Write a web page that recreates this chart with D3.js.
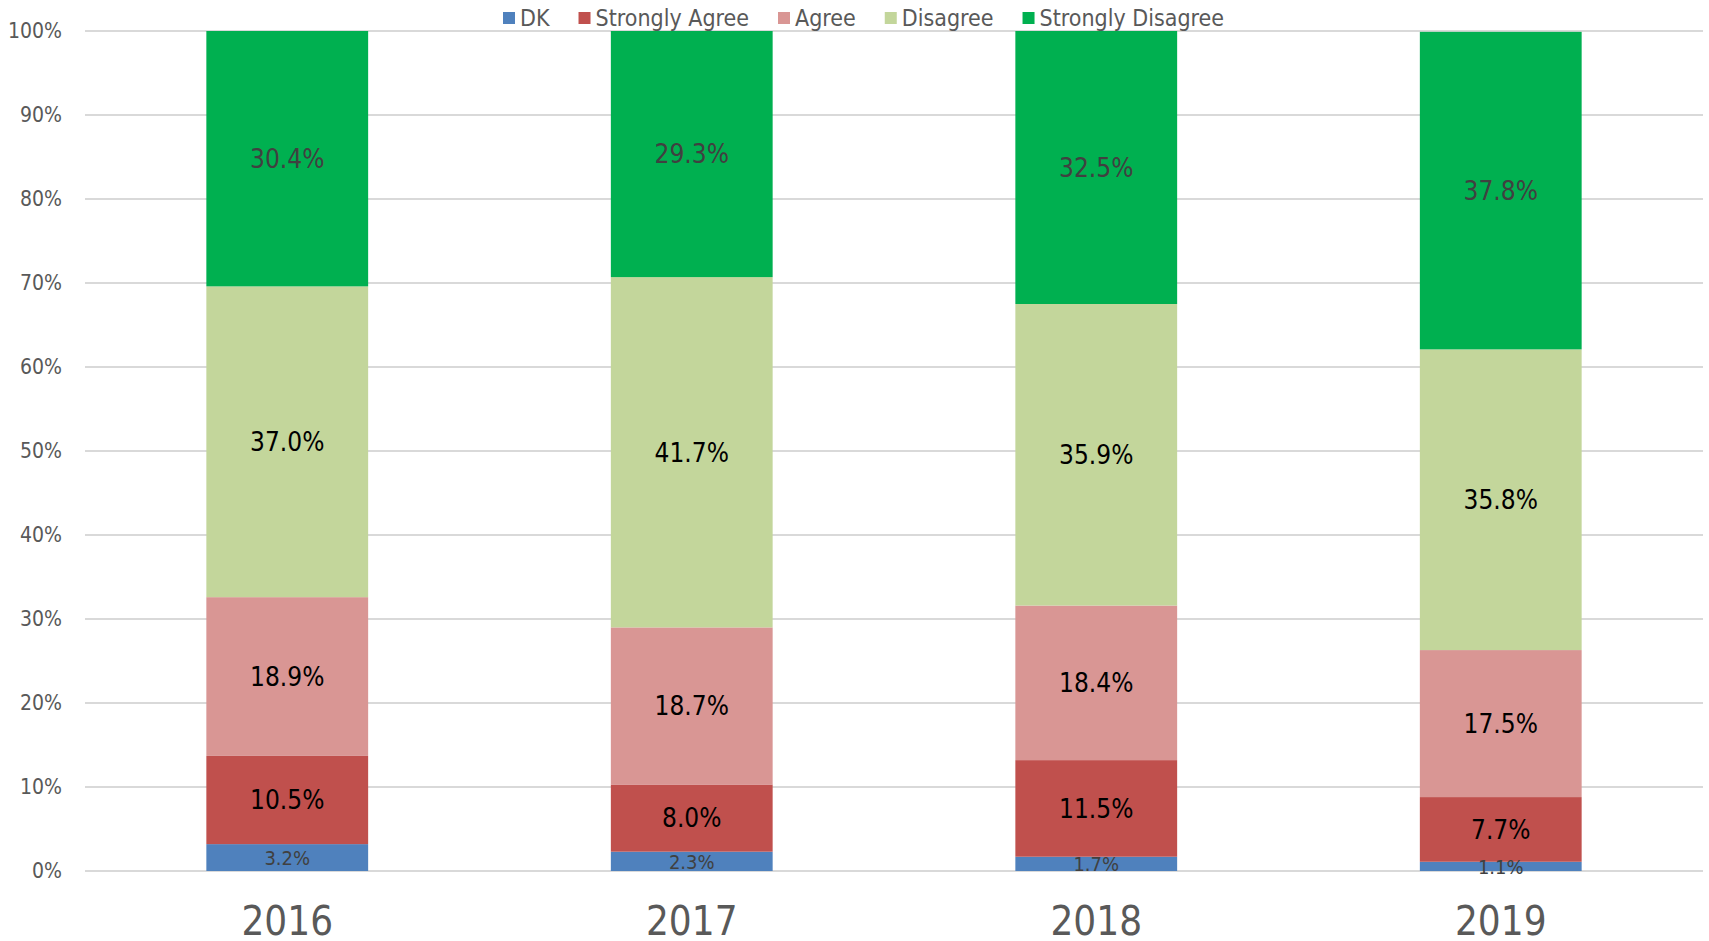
<!DOCTYPE html>
<html>
<head>
<meta charset="utf-8">
<script src="https://cdn.jsdelivr.net/npm/d3@7"></script>
<style>
  body { margin: 0; background: #fff; }
  svg { display: block; font-family: "DejaVu Sans Condensed", "DejaVu Sans", sans-serif; }
</style>
</head>
<body>
<svg id="chart" width="1709" height="941"></svg>
<script>
// data
var years = ['2016', '2017', '2018', '2019'];
var seriesNames = ['DK', 'Strongly Agree', 'Agree', 'Disagree', 'Strongly Disagree'];
var dk = [3.2, 2.3, 1.7, 1.1];
var stronglyAgree = [10.5, 8.0, 11.5, 7.7];
var agree = [18.9, 18.7, 18.4, 17.5];
var disagree = [37.0, 41.7, 35.9, 35.8];
var stronglyDisagree = [30.4, 29.3, 32.5, 37.8];
var yTicks = [0, 10, 20, 30, 40, 50, 60, 70, 80, 90, 100];

var colors = ['#4F81BD', '#C0504D', '#D99694', '#C3D69B', '#00B050'];
var labelColors = ['#404040', '#000', '#000', '#000', '#404040'];
var labelSizes = [20, 26, 26, 26, 26];

var svg = d3.select('#chart');
var W = 1709, H = 941;
var m = {left: 85, right: 6, top: 31, bottom: 70};

var rows = years.map(function (y, i) {
  return {year: y, 'DK': dk[i], 'Strongly Agree': stronglyAgree[i], 'Agree': agree[i],
    'Disagree': disagree[i], 'Strongly Disagree': stronglyDisagree[i]};
});
var stacked = d3.stack().keys(seriesNames)(rows);

var x = d3.scaleBand().domain(years)
  .range([m.left, W - m.right]).paddingInner(0.6).paddingOuter(0.3);
var y = d3.scaleLinear().domain([0, 100]).range([H - m.bottom, m.top]);

// gridlines
svg.append('g').selectAll('line').data(yTicks).enter().append('line')
  .attr('x1', m.left).attr('x2', W - m.right)
  .attr('y1', function (d) { return y(d); }).attr('y2', function (d) { return y(d); })
  .attr('stroke', '#D9D9D9').attr('stroke-width', 2);

// y axis labels
var yAxis = svg.append('g').attr('transform', 'translate(' + (m.left - 23) + ',0)')
  .call(d3.axisLeft(y).tickValues(yTicks).tickSize(0).tickPadding(0)
    .tickFormat(function (d) { return d + '%'; }));
yAxis.select('.domain').remove();
yAxis.selectAll('text').attr('font-size', 21).attr('fill', '#595959')
  .attr('font-family', '"DejaVu Sans Condensed", sans-serif');

// x axis labels
var xAxis = svg.append('g').attr('transform', 'translate(0,' + (H - m.bottom) + ')')
  .call(d3.axisBottom(x).tickSize(0).tickPadding(36));
xAxis.select('.domain').remove();
xAxis.selectAll('text').attr('font-size', 40).attr('fill', '#595959')
  .attr('font-family', '"DejaVu Sans Condensed", sans-serif');

// bars
var layers = svg.append('g').selectAll('g').data(stacked).enter().append('g')
  .attr('fill', function (d, i) { return colors[i]; });
layers.selectAll('rect').data(function (d) { return d; }).enter().append('rect')
  .attr('x', function (d) { return x(d.data.year); })
  .attr('width', x.bandwidth())
  .attr('y', function (d) { return y(d[1]); })
  .attr('height', function (d) { return y(d[0]) - y(d[1]); });

// data labels
stacked.forEach(function (s, i) {
  svg.append('g').selectAll('text').data(s).enter().append('text')
    .attr('x', function (d) { return x(d.data.year) + x.bandwidth() / 2; })
    .attr('y', function (d) { return y((d[0] + d[1]) / 2); })
    .attr('text-anchor', 'middle').attr('dy', '0.36em')
    .attr('font-size', labelSizes[i]).attr('fill', labelColors[i])
    .text(function (d) { return d.data[s.key].toFixed(1) + '%'; });
});

// legend
var legend = svg.append('g');
var items = legend.selectAll('g').data(seriesNames).enter().append('g');
items.append('rect').attr('width', 12).attr('height', 12).attr('y', 12)
  .attr('fill', function (d, i) { return colors[i]; });
items.append('text').attr('x', 17).attr('y', 26).attr('font-size', 23)
  .attr('fill', '#595959').text(function (d) { return d; });
var pos = 0;
items.each(function () {
  var w = 17 + d3.select(this).select('text').node().getComputedTextLength();
  d3.select(this).attr('transform', 'translate(' + pos + ',0)');
  pos += w + 29;
});
var total = pos - 29;
legend.attr('transform', 'translate(' + Math.round(864 - total / 2) + ',0)');
</script>
</body>
</html>
